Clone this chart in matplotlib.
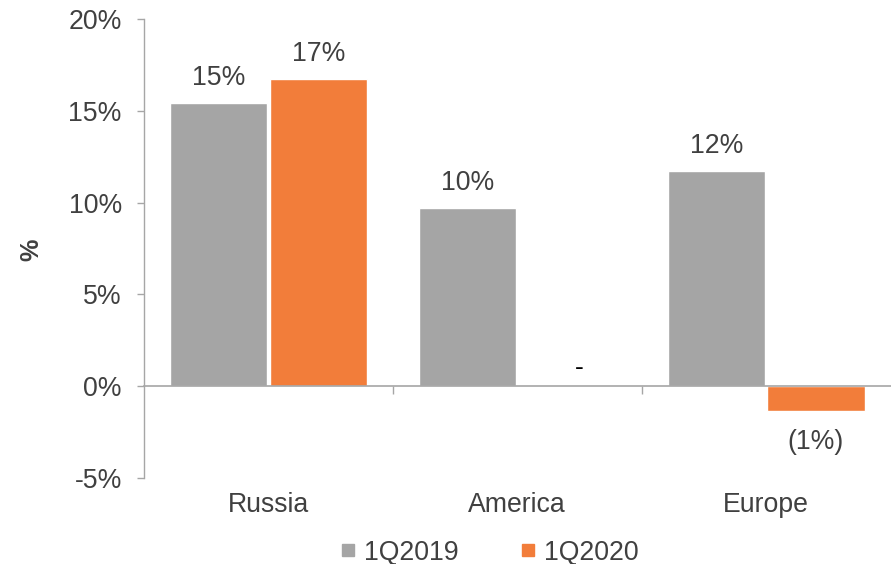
import matplotlib.pyplot as plt
import numpy as np
from matplotlib.lines import Line2D
from matplotlib.transforms import blended_transform_factory

plt.rcParams['font.family'] = ['Liberation Sans', 'DejaVu Sans']

# Data
regions = ['Russia', 'America', 'Europe']
q2019 = [15.4, 9.7, 11.7]
q2020 = [16.7, 0.0, -1.35]
series_names = ['1Q2019', '1Q2020']
y_ticks = [-5, 0, 5, 10, 15, 20]

GRAY = '#A5A5A5'
ORANGE = '#F27D3A'
TXT = '#404040'
AXIS = '#A6A6A6'
FS = 19.2


def fmt(v):
    r = int(round(v))
    if r == 0 and abs(v) < 0.05:
        return '-'
    if r < 0:
        return '(%d%%)' % abs(r)
    return '%d%%' % r


fig = plt.figure(figsize=(8.91, 5.64), dpi=100)
ax = fig.add_axes([0.1616, 0.152, 0.838, 0.8147])

x = np.arange(len(regions)) + 0.5
w = 0.39
off = 0.2

for vals, color, dx in [(q2019, GRAY, -off), (q2020, ORANGE, off)]:
    bars = ax.bar(x + dx, vals, width=w, color=color, edgecolor='white', linewidth=1, zorder=2)
    for b, v in zip(bars, vals):
        cx = b.get_x() + b.get_width() / 2
        lab = fmt(v)
        if lab == '-':
            ax.annotate(lab, (cx + 0.05, 0), xytext=(0, 8), textcoords='offset points',
                        ha='center', va='baseline', fontsize=FS, color='black')
        elif v >= 0:
            ax.annotate(lab, (cx, v), xytext=(0, 13), textcoords='offset points',
                        ha='center', va='baseline', fontsize=FS, color=TXT)
        else:
            ax.annotate(lab, (cx, v), xytext=(0, -22), textcoords='offset points',
                        ha='center', va='center', fontsize=FS, color=TXT)

ax.set_xlim(0, 3)
ax.set_ylim(-5, 20)
ax.set_yticks(y_ticks)
ax.set_yticklabels(['%d%%' % t for t in y_ticks])
ax.tick_params(axis='y', direction='out', length=5, width=1, color=AXIS,
               labelsize=FS, labelcolor=TXT, pad=11)

for s in ['top', 'right']:
    ax.spines[s].set_visible(False)
ax.spines['left'].set_color(AXIS)
ax.spines['left'].set_linewidth(1)
ax.spines['bottom'].set_position(('data', 0))
ax.spines['bottom'].set_color(AXIS)
ax.spines['bottom'].set_linewidth(1.2)
ax.spines['bottom'].set_zorder(3)
ax.set_xticks([1, 2])
ax.set_xticklabels([])
ax.tick_params(axis='x', direction='out', length=6, width=1, color=AXIS)

trans = blended_transform_factory(ax.transData, ax.transAxes)
for xi, name in zip(x, regions):
    ax.text(xi, -0.058, name, transform=trans, ha='center', va='center',
            fontsize=FS, color=TXT)

fig.text(0.035, 0.557, '%', rotation=90, ha='center', va='center',
         fontsize=FS - 1, fontweight='bold', color=TXT)

handles = [Line2D([], [], marker='s', linestyle='none', markersize=8, color=c)
           for c in (GRAY, ORANGE)]
fig.legend(handles, series_names, loc='center', bbox_to_anchor=(0.549, 0.02),
           ncol=2, frameon=False, fontsize=FS, labelcolor=TXT,
           handlelength=0.6, handletextpad=0.3, columnspacing=2.3)

fig.savefig('out.png', dpi=100)
